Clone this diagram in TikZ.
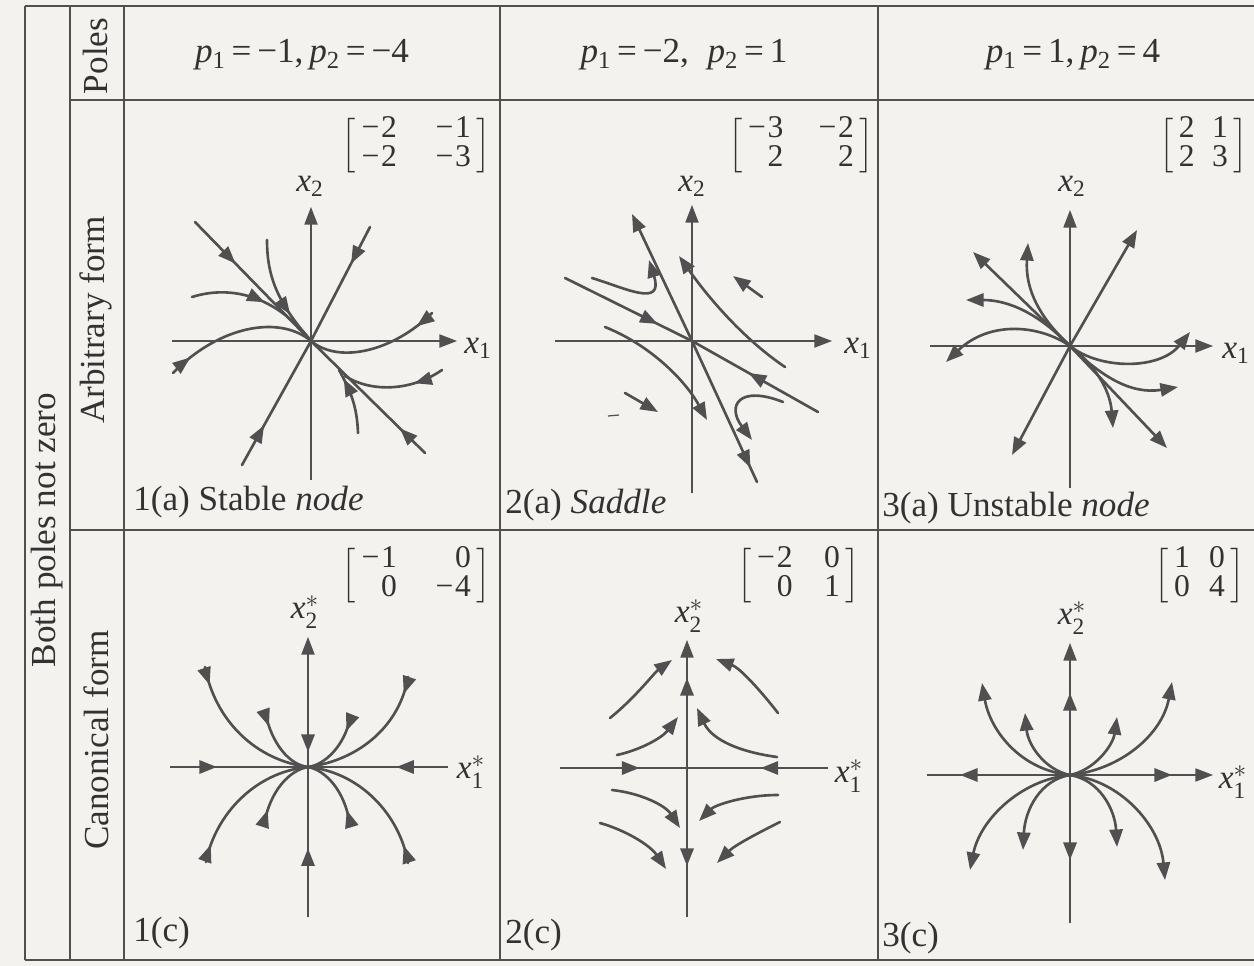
\documentclass[tikz,border=0pt]{standalone}
\usepackage{amsmath}
\usepackage{fontspec}
\setmainfont{Liberation Serif}
\usetikzlibrary{arrows.meta,decorations.markings}
\definecolor{bg}{RGB}{243,242,238}
\definecolor{lc}{RGB}{80,80,80}
\definecolor{tc}{RGB}{50,50,50}
\newcommand{\mymat}[2]{$\left[\vcenter{\hbox{\begin{tabular}{@{\,}r@{\hspace{#1}}r@{\,}}#2\end{tabular}}}\right]$}
\newcommand{\pp}[1]{\textit{p}\textsubscript{#1}}
\newcommand{\xs}[1]{$\textit{x}_{\text{#1}}$}
\newcommand{\xst}[1]{$\textit{x}^{*}_{\text{#1}}$}
\newcommand{\mn}{−\kern1pt}
\begin{document}
\begin{tikzpicture}[x=0.02cm,y=-0.02cm,
  ln/.style={draw=lc,line width=1.5pt,line cap=round},
  ax/.style={draw=lc,line width=0.7pt},
  arr/.style={-{Triangle[length=10pt,width=7.5pt]}},
  tabline/.style={draw=lc,line width=1pt},
  midar/.style={postaction={decorate},decoration={markings,mark=at position #1 with {\arrow{Triangle[length=10pt,width=7.5pt]}}}},
  txt/.style={text=tc,font=\fontsize{20}{23}\selectfont,inner sep=0pt},
  lab/.style={text=tc,font=\fontsize{19}{21}\selectfont,inner sep=0pt},
  mat/.style={text=tc,font=\fontsize{18}{15.5}\selectfont,inner sep=0pt,anchor=north east},
]
\useasboundingbox (0,0) rectangle (1254,966);
\fill[bg] (0,0) rectangle (1254,966);
% table
\draw[tabline] (25,6) -- (1254,6);
\draw[tabline] (70,100) -- (1254,100);
\draw[tabline] (70,530) -- (1254,530);
\draw[tabline] (25,960) -- (1254,960);
\foreach \xx in {25,70,124,500,878} \draw[tabline] (\xx,6) -- (\xx,960);
% headers
\node[txt,rotate=90] (poles) at (95,56) {Poles};
\node[txt,rotate=90] (arb) at (96,320) {Arbitrary form};
\node[txt,rotate=90] (can) at (96,740) {Canonical form};
\node[txt,rotate=90] (both) at (47,530) {Both poles not zero};
\node[txt] (p1) at (302,55) {\pp{1}\,=\,−1,\,\pp{2}\,=\,−4};
\node[txt] (p2) at (684,55) {\pp{1}\,=\,−2,\; \pp{2}\,=\,1};
\node[txt] (p3) at (1073,55) {\pp{1}\,=\,1,\,\pp{2}\,=\,4};
% ---------- 1(a)
\draw[ax,arr] (311,480) -- (311,207);
\draw[ax,arr] (172,341) -- (457,341);
\node[lab] (x2a) at (310,186) {\xs{2}};
\node[lab] (x1a) at (478,348) {\xs{1}};
\node[mat] (m1a) at (491,116) {\mymat{22pt}{\mn2&\mn1\\\mn2&\mn3}};
\draw[ln,midar=0.35] (195,222) -- (311,341);
\draw[ln,midar=0.22] (425,453) -- (311,341);
\draw[ln,midar=0.32] (370,227) -- (311,341);
\draw[ln,midar=0.32] (242,465) -- (311,341);
\draw[ln,midar=0.7] (267,240) .. controls (267,280) and (280,305) .. (311,341);
\draw[ln,midar=0.55] (192,297) .. controls (230,285) and (275,295) .. (311,341);
\draw[ln,midar=0.15] (173,373) .. controls (220,325) and (280,315) .. (311,341);
\draw[ln,midar=0.15] (432,313) .. controls (395,350) and (340,365) .. (311,341);
\draw[ln,midar=0.3] (442,370) .. controls (410,392) and (370,392) .. (345,376);
\draw[ln,midar=0.85] (358,433) .. controls (357,405) and (350,390) .. (339,370);
\node[txt,anchor=west] (l1a) at (133,502) {1(a) Stable \textit{node}};
% ---------- 2(a)
\draw[ax,arr] (692,493) -- (692,205);
\draw[ax,arr] (555,341) -- (832,341);
\node[lab] (x2b) at (692,186) {\xs{2}};
\node[lab] (x1b) at (858,348) {\xs{1}};
\node[mat] (m2a) at (874,116) {\mymat{20pt}{\mn3&\mn2\\2&2}};
\draw[ln,arr] (692,341) -- (632,214);
\draw[ln,midar=0.9] (692,341) -- (757,482);
\draw[ln,midar=0.73] (565,278) -- (692,341);
\draw[ln,midar=0.55] (818,412) -- (692,341);
\draw[ln,arr] (592,278) .. controls (625,288) and (664,308) .. (649,260);
\draw[ln,arr] (605,327) .. controls (650,345) and (685,380) .. (707,420);
\draw[ln,arr] (785,367) .. controls (745,340) and (710,300) .. (679,256);
\draw[ln,arr] (783,402) .. controls (740,385) and (726,405) .. (752,440);
\draw[ln,arr] (762,297) -- (733,276);
\draw[ln,arr] (625,393) -- (658,412);
\draw[ax] (608,416) -- (619,415);
\node[txt,anchor=west] (l2a) at (505,505) {2(a) \textit{Saddle}};
% ---------- 3(a)
\draw[ax,arr] (1070,488) -- (1070,210);
\draw[ax,arr] (930,346) -- (1213,346);
\node[lab] (x2c) at (1072,186) {\xs{2}};
\node[lab] (x1c) at (1236,353) {\xs{1}};
\node[mat] (m3a) at (1248,116) {\mymat{10pt}{2&1\\2&3}};
\draw[ln,arr] (1070,346) -- (1137,230);
\draw[ln,arr] (1070,346) -- (1012,455);
\draw[ln,arr] (1070,346) -- (973,252);
\draw[ln,arr] (1070,346) -- (1167,448);
\draw[ln,arr] (1070,346) .. controls (1040,318) and (1025,290) .. (1028,243);
\draw[ln,arr] (1070,346) .. controls (1040,315) and (1010,300) .. (966,300);
\draw[ln,arr] (1070,346) .. controls (1040,325) and (990,320) .. (946,362);
\draw[ln,arr] (1070,346) .. controls (1100,370) and (1160,370) .. (1190,332);
\draw[ln,arr] (1070,346) .. controls (1100,375) and (1130,395) .. (1178,387);
\draw[ln,arr] (1070,346) .. controls (1095,365) and (1110,390) .. (1113,428);
\node[txt,anchor=west] (l3a) at (882,508) {3(a) Unstable \textit{node}};
% ---------- 1(c)
\draw[ax,arr] (308,917) -- (308,637);
\draw[ax] (170,767) -- (448,767);
\node[lab] (x2d) at (305,612) {\xst{2}};
\node[lab] (x1d) at (471,772) {\xst{1}};
\node[mat] (m1c) at (491,546) {\mymat{22pt}{\mn1&0\\0&\mn4}};
\draw[ln,midar=0.33] (172,767) -- (308,767);
\draw[ln,midar=0.36] (446,767) -- (308,767);
\draw[ln,arr] (308,715) -- (308,752);
\draw[ln,midar=0.45] (308,915) -- (308,767);
\draw[ln,midar=0.12] (205,667) .. controls (215,720) and (255,760) .. (308,767);
\draw[ln,midar=0.2] (265,712) .. controls (272,745) and (290,765) .. (308,767);
\draw[ln,midar=0.12] (408,677) .. controls (400,725) and (360,760) .. (308,767);
\draw[ln,midar=0.2] (350,718) .. controls (345,745) and (325,765) .. (308,767);
\draw[ln,midar=0.12] (206,862) .. controls (215,815) and (255,772) .. (308,767);
\draw[ln,midar=0.2] (264,825) .. controls (270,790) and (290,770) .. (308,767);
\draw[ln,midar=0.12] (408,863) .. controls (400,815) and (360,772) .. (308,767);
\draw[ln,midar=0.2] (350,825) .. controls (345,790) and (325,770) .. (308,767);
\node[txt,anchor=west] (l1c) at (133,933) {1(c)};
% ---------- 2(c)
\draw[ax,arr] (687,917) -- (687,640);
\draw[ax] (560,768) -- (828,768);
\node[lab] (x2e) at (689,616) {\xst{2}};
\node[lab] (x1e) at (849,776) {\xst{1}};
\node[mat] (m2c) at (860,546) {\mymat{18pt}{\mn2&0\\0&1}};
\draw[ln,midar=0.62] (562,768) -- (687,768);
\draw[ln,midar=0.47] (826,768) -- (687,768);
\draw[ln,arr] (687,768) -- (687,678);
\draw[ln,arr] (687,768) -- (687,866);
\draw[ln,arr] (610,718) .. controls (635,698) and (655,672) .. (672,660);
\draw[ln,arr] (617,755) .. controls (640,750) and (662,738) .. (678,717);
\draw[ln,arr] (778,713) .. controls (760,690) and (740,668) .. (716,659);
\draw[ln,arr] (777,757) .. controls (740,752) and (712,740) .. (697,708);
\draw[ln,arr] (612,790) .. controls (640,793) and (665,805) .. (680,828);
\draw[ln,arr] (600,823) .. controls (625,830) and (650,845) .. (666,869);
\draw[ln,arr] (778,795) .. controls (745,795) and (715,805) .. (699,821);
\draw[ln,arr] (780,822) .. controls (760,832) and (735,845) .. (717,863);
\node[txt,anchor=west] (l2c) at (505,935) {2(c)};
% ---------- 3(c)
\draw[ax,arr] (1070,923) -- (1070,643);
\draw[ax,arr] (927,775) -- (1213,775);
\node[lab] (x2f) at (1072,618) {\xst{2}};
\node[lab] (x1f) at (1233,782) {\xst{1}};
\node[mat] (m3c) at (1245,546) {\mymat{11pt}{1&0\\0&4}};
\draw[ln,arr] (1070,775) -- (960,775);
\draw[ln,arr] (1070,775) -- (1172,775);
\draw[ln,arr] (1070,775) -- (1070,693);
\draw[ln,arr] (1070,775) -- (1070,860);
\draw[ln,arr] (1070,775) .. controls (1020,770) and (990,730) .. (982,683);
\draw[ln,arr] (1070,775) .. controls (1045,770) and (1028,745) .. (1025,713);
\draw[ln,arr] (1070,775) .. controls (1095,770) and (1113,745) .. (1117,717);
\draw[ln,arr] (1070,775) .. controls (1120,770) and (1162,735) .. (1172,682);
\draw[ln,arr] (1070,775) .. controls (1020,780) and (980,820) .. (970,870);
\draw[ln,arr] (1070,775) .. controls (1040,780) and (1025,810) .. (1023,850);
\draw[ln,arr] (1070,775) .. controls (1100,780) and (1115,810) .. (1117,847);
\draw[ln,arr] (1070,775) .. controls (1120,780) and (1160,825) .. (1165,880);
\node[txt,anchor=west] (l3c) at (882,938) {3(c)};
\end{tikzpicture}
\end{document}
